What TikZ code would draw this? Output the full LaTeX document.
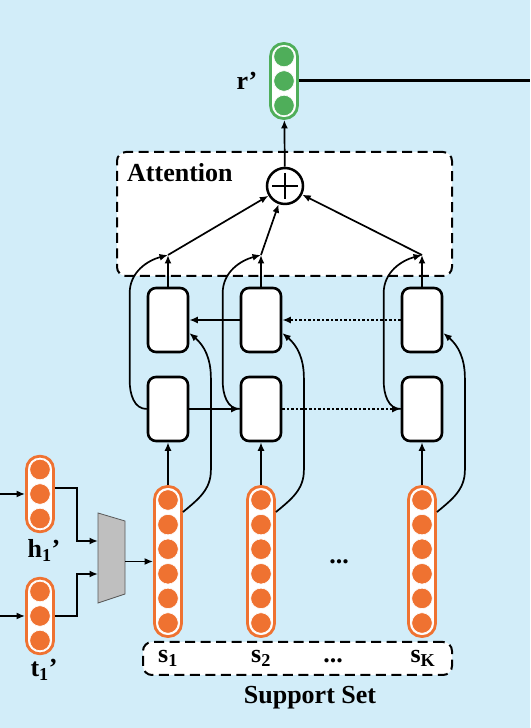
\documentclass[tikz,border=0pt]{standalone}
\usepackage{fontspec}
\setmainfont{Liberation Serif}
\usetikzlibrary{positioning,calc,arrows.meta}
\definecolor{bgblue}{HTML}{D2EDF9}
\definecolor{embOrange}{HTML}{EF7231}
\definecolor{relGreen}{HTML}{4FAE5A}
\definecolor{mixGray}{HTML}{BFBFBF}

\begin{document}
\begin{tikzpicture}[x=1pt,y=1pt,
  font=\fontsize{26}{30}\selectfont\bfseries,
  vec/.style={draw=#1, line width=2.8pt, fill=white, rounded corners=13pt,
    minimum width=27pt, inner sep=0pt},
  unit/.style={circle, fill=#1, draw=white, line width=0.6pt,
    minimum size=20.5pt, inner sep=0pt},
  cell/.style={draw, line width=2.6pt, fill=white, rounded corners=8pt,
    minimum width=40pt, minimum height=64pt, inner sep=0pt},
  conn/.style={-{Latex[length=8.5pt,width=7pt]}, line width=1.7pt},
  dots/.style={dash pattern=on 2.5pt off 2pt},
  dashbox/.style={draw, dash pattern=on 10pt off 5.5pt, line width=2pt,
    rounded corners=9pt, fill=white, inner sep=0pt},
  sumnode/.style={circle, draw, line width=2.5pt, fill=white, minimum size=36pt,
    inner sep=0pt, path picture={
      \draw[line width=2.8pt] ($(path picture bounding box.center)+(0,13)$) -- ++(0,-26)
        ($(path picture bounding box.center)+(-13,0)$) -- ++(26,0);}},
  lab/.style={anchor=base, inner sep=0pt}
  ]
  \fill[bgblue] (0,0) rectangle (530,728);
  \useasboundingbox (0,0) rectangle (530,728);

  % dashed frames
  \node[dashbox, minimum width=335pt, minimum height=124pt] (att) at (284.5,514) {};
  \node[anchor=base west, inner sep=0pt] (attlab) at (127,546) {Attention};
  \node[dashbox, minimum width=309pt, minimum height=33pt] (sup) at (297.5,69.5) {};

  % relation vector
  \node[vec=relGreen, minimum height=75pt] (r) at (284,647) {};
  \foreach \i/\dy in {1/24.5,2/0,3/-24.5}
    \node[unit=relGreen] (r-\i) at ($(r)+(0,\dy)$) {};
  \node[lab] (rlab) at (247,638) {r’};
  \coordinate (rout) at (530,647);
  \draw[line width=3pt] (r) -- (rout);

  \node[sumnode] (sum) at (285,542) {};
  \draw[conn] (sum) -- (r);

  % support columns
  \foreach \n/\x in {1/168,2/261,3/422}{
    \node[cell] (top\n) at (\x,408) {};
    \node[cell] (bot\n) at (\x,319) {};
    \coordinate (j\n) at (\x,473);
    \node[vec=embOrange, minimum height=150pt] (s\n) at (\x,166.5) {};
    \foreach \i/\dy in {1/61.5,2/36.9,3/12.3,4/-12.3,5/-36.9,6/-61.5}
      \node[unit=embOrange] (s\n-\i) at ($(s\n)+(0,\dy)$) {};
    \draw[conn] (s\n.north) -- (bot\n.south);
    \draw[conn] (top\n.north) -- (j\n);
    \draw[conn] (j\n) -- (sum);
    \draw[conn] (bot\n.west) to[out=180,in=-90] ++(-17,28) -- ++(0,88)
      to[out=90,in=195] (j\n);
    \draw[conn] ([yshift=-27pt]s\n.north east) to[out=40,in=-90] ++(28,42)
      -- ++(0,92) to[out=90,in=-40] ([yshift=-13pt]top\n.east);
  }
  \draw[conn] (top2.west) -- (top1.east);
  \draw[conn, dots] (top3.west) -- (top2.east);
  \draw[conn] (bot1.east) -- (bot2.west);
  \draw[conn, dots] (bot2.east) -- (bot3.west);
  \node[lab] (middots) at (339,164) {...};

  % support labels
  \node[lab] (lab1) at (168,65) {s\textsubscript{1}};
  \node[lab] (lab2) at (261,65) {s\textsubscript{2}};
  \node[lab] (labd) at (333,65) {...};
  \node[lab] (lab3) at (423,65) {s\textsubscript{K}};
  \node[lab] (suplab) at (310,24) {Support Set};

  % head and tail
  \node[vec=embOrange, minimum height=75.5pt] (h) at (40,234) {};
  \node[vec=embOrange, minimum height=75.5pt] (t) at (40,112) {};
  \foreach \i/\dy in {1/24.5,2/0,3/-24.5}{
    \node[unit=embOrange] (h-\i) at ($(h)+(0,\dy)$) {};
    \node[unit=embOrange] (t-\i) at ($(t)+(0,\dy)$) {};
  }
  \node[lab] (hlab) at (44,170) {h\textsubscript{1}’};
  \node[lab] (tlab) at (44,51) {t\textsubscript{1}’};
  \coordinate (hin) at (0,234);
  \coordinate (tin) at (0,112);
  \draw[conn] (hin) -- (h);
  \draw[conn] (tin) -- (t);

  % combiner
  \coordinate (mixA) at (98,215);
  \coordinate (mixB) at (125,207);
  \coordinate (mixC) at (125,134);
  \coordinate (mixD) at (98,125);
  \filldraw[fill=mixGray, draw=gray!70!black, line width=0.8pt]
    (mixA) -- (mixB) -- (mixC) -- (mixD) -- cycle;
  \coordinate (mixh) at (98,187);
  \coordinate (mixt) at (98,154);
  \coordinate (mixo) at (125,166.5);
  \draw[conn] ([yshift=6pt]h.east) -| ($(mixh)+(-21,0)$) -- (mixh);
  \draw[conn] (t.east) -| ($(mixt)+(-21,0)$) -- (mixt);
  \draw[conn] (mixo) -- (s1.west);
\end{tikzpicture}
\end{document}
